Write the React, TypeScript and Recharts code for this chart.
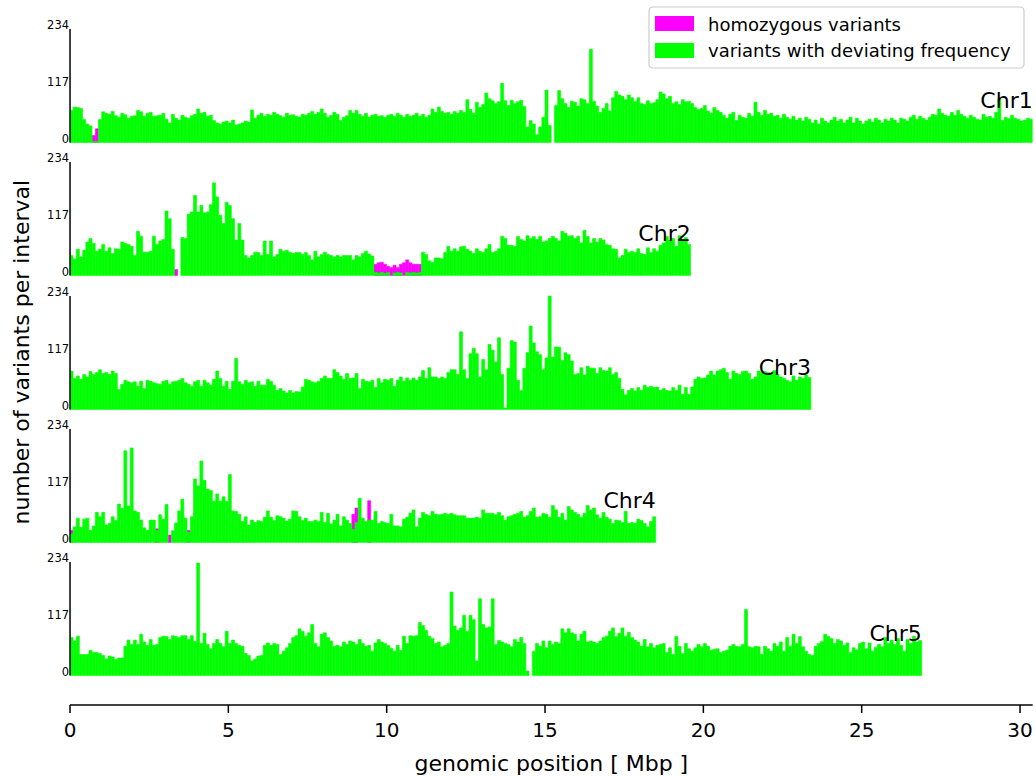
import React from 'react'
import { Bar, BarChart, XAxis, YAxis } from 'recharts'

// variants with deviating frequency, one value per 0.1 Mbp interval
const chr1Deviating = [
  66, 73, 72, 70, 47, 38, 34, 2, 2, 47,
  63, 60, 58, 64, 55, 52, 60, 57, 50, 54,
  55, 66, 63, 54, 60, 62, 54, 55, 56, 60,
  48, 40, 58, 50, 46, 56, 52, 50, 55, 58,
  69, 60, 62, 54, 56, 45, 40, 38, 42, 44,
  40, 46, 36, 38, 40, 44, 42, 67, 50, 56,
  60, 54, 58, 56, 62, 58, 55, 52, 60, 56,
  57, 54, 52, 58, 56, 60, 64, 58, 62, 69,
  60, 52, 56, 62, 58, 45, 52, 55, 66, 60,
  66, 58, 54, 60, 52, 56, 58, 54, 55, 52,
  56, 58, 54, 60, 56, 52, 58, 54, 56, 60,
  54, 58, 52, 56, 69, 62, 73, 64, 60, 62,
  58, 64, 60, 66, 62, 88, 68, 60, 83, 72,
  78, 102, 90, 86, 80, 84, 122, 86, 76, 87,
  80, 84, 87, 74, 32, 45, 38, 16, 32, 52,
  108, 35, 0, 76, 107, 90, 80, 72, 85, 83,
  75, 90, 88, 80, 192, 85, 75, 62, 70, 80,
  65, 92, 105, 98, 95, 88, 98, 92, 84, 92,
  80, 78, 86, 80, 82, 88, 104, 100, 90, 95,
  80, 84, 78, 88, 84, 85, 80, 72, 68, 70,
  76, 65, 60, 72, 66, 62, 56, 50, 58, 62,
  45, 56, 52, 50, 60, 54, 83, 62, 56, 66,
  58, 60, 54, 56, 50, 58, 52, 48, 54, 46,
  50, 44, 52, 48, 40, 46, 38, 50, 44, 40,
  46, 52, 44, 48, 40, 46, 52, 40, 50, 44,
  38, 44, 48, 42, 50, 46, 40, 48, 44, 50,
  46, 40, 50, 48, 44, 52, 56, 48, 54, 50,
  46, 52, 58, 56, 69, 60, 56, 54, 62, 56,
  66, 58, 54, 50, 56, 52, 48, 46, 58, 52,
  54, 50, 62, 90, 45, 52, 49, 56, 50, 48,
  44, 46, 50, 48,
]

const chr2Deviating = [
  41, 34, 54, 38, 52, 69, 76, 66, 50, 54,
  64, 50, 57, 45, 55, 54, 69, 66, 64, 60,
  41, 91, 81, 48, 48, 50, 81, 64, 71, 74,
  133, 117, 54, 0, 0, 78, 76, 126, 131, 165,
  131, 144, 129, 131, 146, 191, 162, 124, 107, 151,
  144, 117, 73, 107, 73, 41, 36, 41, 48, 47,
  41, 71, 43, 71, 38, 43, 54, 50, 52, 48,
  45, 47, 47, 43, 47, 41, 32, 50, 38, 43,
  48, 43, 41, 38, 41, 38, 41, 41, 41, 32,
  41, 38, 45, 50, 44, 40, 6, 5, 6, 4,
  6, 0, 5, 6, 5, 0, 6, 5, 6, 5,
  6, 48, 43, 30, 27, 36, 36, 34, 47, 60,
  50, 55, 50, 59, 60, 54, 50, 45, 55, 50,
  47, 55, 64, 47, 50, 55, 81, 76, 62, 62,
  60, 80, 74, 71, 82, 76, 80, 74, 81, 69,
  71, 76, 81, 76, 71, 91, 87, 81, 82, 76,
  81, 67, 93, 80, 67, 76, 69, 76, 73, 64,
  62, 55, 54, 36, 41, 54, 47, 50, 47, 55,
  45, 43, 57, 47, 55, 50, 62, 67, 80, 73,
  76, 60, 82, 74, 78, 64,
]

const chr3Deviating = [
  79, 64, 69, 62, 72, 67, 78, 72, 76, 82,
  74, 76, 72, 79, 74, 41, 52, 60, 57, 55,
  57, 48, 58, 43, 60, 58, 55, 53, 52, 58,
  60, 52, 57, 58, 60, 64, 55, 52, 48, 57,
  60, 48, 60, 55, 50, 62, 79, 64, 48, 58,
  41, 58, 105, 57, 52, 60, 55, 57, 48, 58,
  50, 50, 62, 58, 50, 39, 43, 38, 34, 39,
  34, 37, 36, 46, 62, 60, 57, 55, 58, 64,
  69, 64, 64, 82, 76, 69, 62, 74, 64, 65,
  74, 43, 62, 58, 57, 60, 45, 64, 55, 62,
  60, 64, 48, 60, 67, 58, 65, 60, 65, 60,
  67, 80, 64, 86, 67, 67, 64, 67, 64, 76,
  82, 82, 72, 160, 82, 64, 115, 126, 115, 67,
  103, 82, 134, 122, 98, 148, 72, 3, 85, 142,
  139, 60, 39, 85, 117, 172, 137, 119, 113, 82,
  106, 234, 108, 129, 128, 101, 117, 113, 100, 72,
  74, 86, 71, 89, 85, 85, 74, 86, 80, 79,
  86, 72, 76, 64, 41, 30, 39, 43, 38, 45,
  39, 50, 45, 48, 45, 46, 39, 43, 39, 38,
  45, 39, 50, 31, 45, 31, 46, 62, 67, 64,
  65, 71, 79, 71, 79, 82, 85, 76, 62, 79,
  74, 72, 78, 79, 74, 62, 67, 79, 76, 78,
  76, 74, 80, 72, 67, 64, 60, 57, 69, 60,
  67, 64, 71, 66,
]

const chr4Deviating = [
  18, 32, 50, 31, 48, 50, 25, 34, 62, 53,
  62, 36, 39, 53, 45, 79, 70, 189, 75, 195,
  65, 62, 46, 30, 25, 46, 46, 25, 57, 48,
  78, 0, 24, 40, 65, 89, 50, 21, 53, 131,
  117, 168, 128, 110, 107, 85, 100, 85, 94, 85,
  140, 65, 64, 58, 43, 53, 36, 46, 41, 45,
  43, 52, 65, 52, 45, 55, 53, 50, 44, 48,
  65, 64, 53, 45, 50, 43, 43, 46, 43, 62,
  41, 60, 38, 46, 58, 34, 53, 46, 39, 27,
  41, 91, 50, 43, 46, 46, 64, 39, 43, 41,
  39, 58, 34, 34, 32, 48, 52, 60, 67, 32,
  50, 62, 58, 55, 64, 58, 57, 58, 60, 58,
  60, 57, 55, 55, 55, 50, 50, 50, 52, 50,
  67, 60, 60, 60, 57, 62, 55, 46, 53, 55,
  58, 60, 64, 52, 55, 64, 71, 52, 53, 60,
  58, 52, 76, 67, 52, 60, 46, 74, 67, 62,
  58, 52, 60, 76, 67, 71, 57, 50, 62, 52,
  48, 39, 46, 45, 41, 64, 39, 41, 39, 48,
  45, 39, 32, 43, 53,
]

const chr5Deviating = [
  78, 71, 81, 43, 43, 43, 52, 48, 47, 45,
  41, 34, 40, 38, 33, 36, 36, 60, 73, 64,
  73, 64, 85, 69, 62, 74, 62, 64, 78, 81,
  80, 74, 82, 80, 78, 82, 82, 74, 82, 70,
  232, 66, 87, 64, 55, 66, 74, 66, 59, 91,
  66, 73, 66, 62, 60, 45, 41, 30, 34, 40,
  41, 62, 67, 62, 66, 64, 43, 50, 57, 66,
  78, 82, 96, 91, 81, 88, 105, 66, 59, 85,
  88, 78, 71, 60, 62, 59, 69, 64, 71, 69,
  64, 74, 66, 60, 62, 50, 67, 74, 69, 66,
  62, 56, 50, 62, 52, 81, 66, 82, 81, 82,
  109, 103, 93, 81, 76, 66, 69, 59, 62, 66,
  172, 102, 93, 98, 124, 91, 124, 115, 30, 158,
  105, 98, 100, 158, 64, 72, 69, 66, 64, 59,
  74, 69, 78, 66, 9, 0, 50, 66, 60, 71,
  57, 71, 64, 69, 66, 96, 88, 96, 88, 85,
  71, 85, 91, 69, 71, 69, 66, 71, 78, 81,
  91, 98, 80, 87, 98, 81, 89, 78, 73, 69,
  60, 74, 59, 66, 57, 62, 64, 66, 47, 57,
  43, 80, 60, 45, 66, 55, 50, 57, 64, 59,
  66, 60, 52, 54, 55, 47, 50, 52, 60, 64,
  60, 59, 64, 136, 59, 57, 60, 59, 43, 60,
  55, 50, 66, 60, 69, 50, 78, 60, 85, 66,
  80, 59, 50, 43, 41, 60, 66, 70, 85, 80,
  76, 66, 74, 71, 62, 67, 47, 57, 53, 66,
  69, 55, 67, 50, 58, 64, 59, 78, 66, 73,
  64, 76, 62, 50, 74, 66, 81, 69, 72,
]

// homozygous variants: [interval index, count]
const chr1Homozygous = [[7, 14], [8, 28]]
const chr2Homozygous = [
  [33, 12], [96, 23], [97, 26], [98, 27], [99, 23], [100, 19], [101, 16], [102, 21],
  [103, 16], [104, 23], [105, 26], [106, 32], [107, 26], [108, 23], [109, 23], [110, 23],
]
const chr3Homozygous: number[][] = []
const chr4Homozygous = [[0, 25], [27, 28], [31, 15], [37, 25], [89, 58], [90, 71], [94, 86]]
const chr5Homozygous: number[][] = []

const chromosomeNames = ['Chr1', 'Chr2', 'Chr3', 'Chr4', 'Chr5']
const yTicks = [0, 117, 234]
const xTicks = [0, 5, 10, 15, 20, 25, 30]

const INTERVAL = 0.1
const X_MAX = 30.4
const Y_MAX = 234

const W = 1036
const H = 776
const PLOT_LEFT = 70
const PLOT_RIGHT = 3.3
const PX_PER_MBP = (W - PLOT_LEFT - PLOT_RIGHT) / X_MAX
const FIRST_TOP = 29.3
const ROW_STEP = 133.1
const ROW_PLOT_H = 113.4
const PAD_TOP = 14
const PAD_BOTTOM = 10
const AXIS_Y = 705

const GREEN = '#00ff00'
const MAGENTA = '#ff00ff'
const FONT = '"DejaVu Sans", sans-serif'

const chromosomes = [
  { dev: chr1Deviating, hom: chr1Homozygous },
  { dev: chr2Deviating, hom: chr2Homozygous },
  { dev: chr3Deviating, hom: chr3Homozygous },
  { dev: chr4Deviating, hom: chr4Homozygous },
  { dev: chr5Deviating, hom: chr5Homozygous },
].map((c, i) => {
  const homMap = new Map(c.hom.map(([k, v]) => [k, v]))
  return {
    name: chromosomeNames[i],
    length: c.dev.length * INTERVAL,
    rows: c.dev.map((v, k) => ({
      pos: (k + 0.5) * INTERVAL,
      deviating: v,
      homozygous: homMap.get(k) ?? 0,
    })),
  }
})

const YTick = (props: any) => {
  const { x, y, payload } = props
  return (
    <text x={x} y={y - 3.5} textAnchor='end' dominantBaseline='central' fontSize={11.5} fill='#000'>
      {payload.value}
    </text>
  )
}

const ChromosomeRow = ({ rows, index }: { rows: any[]; index: number }) => (
  <div style={{ position: 'absolute', left: 0, top: FIRST_TOP + ROW_STEP * index - PAD_TOP }}>
    <BarChart
      width={W}
      height={PAD_TOP + ROW_PLOT_H + PAD_BOTTOM}
      data={rows}
      margin={{ top: PAD_TOP, right: PLOT_RIGHT, bottom: PAD_BOTTOM, left: 0 }}
      barCategoryGap={0}
      barGap={0}
    >
      <XAxis xAxisId='hom' dataKey='pos' type='number' domain={[0, X_MAX]} allowDataOverflow hide />
      <XAxis xAxisId='dev' dataKey='pos' type='number' domain={[0, X_MAX]} allowDataOverflow hide />
      <YAxis
        domain={[0, Y_MAX]}
        ticks={yTicks}
        interval={0}
        width={PLOT_LEFT}
        tickLine={false}
        tickSize={0}
        tickMargin={1}
        axisLine={{ stroke: '#000', strokeWidth: 1.5 }}
        tick={<YTick />}
      />
      <Bar
        xAxisId='hom'
        dataKey='homozygous'
        fill={MAGENTA}
        stroke={MAGENTA}
        strokeWidth={0.6}
        isAnimationActive={false}
      />
      <Bar
        xAxisId='dev'
        dataKey='deviating'
        fill={GREEN}
        stroke={GREEN}
        strokeWidth={0.6}
        isAnimationActive={false}
      />
    </BarChart>
  </div>
)

const App = () => {
  const axisChartH = 80
  const axisH = 60
  return (
    <div style={{ position: 'relative', width: W, height: H, background: '#fff', fontFamily: FONT }}>
      <style>{'body { margin: 0; }'}</style>
      {chromosomes.map((c, i) => (
        <ChromosomeRow key={c.name} rows={c.rows} index={i} />
      ))}
      <div style={{ position: 'absolute', left: 0, top: AXIS_Y - (axisChartH - axisH) }}>
        <BarChart
          width={W}
          height={axisChartH}
          data={chromosomes[4].rows}
          margin={{ top: 0, right: PLOT_RIGHT, bottom: 0, left: PLOT_LEFT }}
        >
          <XAxis
            dataKey='pos'
            type='number'
            domain={[0, X_MAX]}
            allowDataOverflow
            ticks={xTicks}
            interval={0}
            height={axisH}
            tickSize={8}
            tickMargin={10}
            axisLine={{ stroke: '#000', strokeWidth: 1.5 }}
            tickLine={{ stroke: '#000', strokeWidth: 1.5 }}
            tick={{ fontSize: 20, fill: '#000' }}
          />
        </BarChart>
      </div>
      <svg
        width={W}
        height={H}
        style={{ position: 'absolute', left: 0, top: 0, pointerEvents: 'none', fontFamily: FONT }}
      >
        {chromosomes.map((c, i) => (
          <text
            key={c.name}
            x={PLOT_LEFT + c.length * PX_PER_MBP}
            y={FIRST_TOP + ROW_STEP * i + 79}
            textAnchor='end'
            fontSize={22}
            fill='#000'
          >
            {c.name}
          </text>
        ))}
        <text
          transform={`translate(29, ${FIRST_TOP + (ROW_STEP * 4 + ROW_PLOT_H) / 2}) rotate(-90)`}
          textAnchor='middle'
          fontSize={22}
          fill='#000'
        >
          number of variants per interval
        </text>
        <text x={PLOT_LEFT + (X_MAX * PX_PER_MBP) / 2} y={771} textAnchor='middle' fontSize={22} fill='#000'>
          genomic position [ Mbp ]
        </text>
        <g>
          <rect x={649} y={7} width={375} height={61} rx={4} fill='#fff' fillOpacity={0.8} stroke='#cccccc' strokeWidth={1.2} />
          <rect x={655} y={16} width={39} height={15} fill={MAGENTA} />
          <rect x={655} y={43} width={39} height={15} fill={GREEN} />
          <text x={708} y={30.5} fontSize={18} fill='#000'>homozygous variants</text>
          <text x={708} y={57} fontSize={18} fill='#000'>variants with deviating frequency</text>
        </g>
      </svg>
    </div>
  )
}

export default App
